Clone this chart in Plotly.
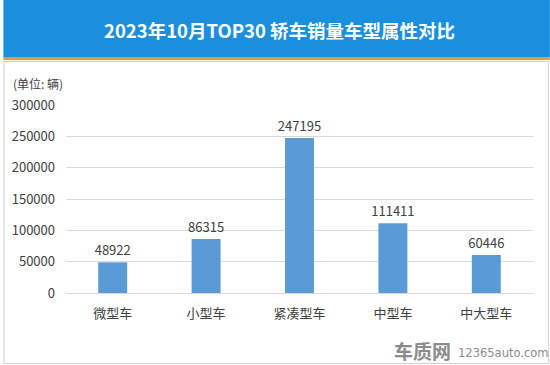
import plotly.graph_objects as go

categories = ["微型车", "小型车", "紧凑型车", "中型车", "中大型车"]
values = [48922, 86315, 247195, 111411, 60446]
y_ticks = [0, 50000, 100000, 150000, 200000, 250000, 300000]

FONT = "Noto Sans CJK SC, Microsoft YaHei, sans-serif"

W, H = 550, 365
L, R, T, B = 63, 17, 105, 72
PW, PH = W - L - R, H - T - B


def px(x):
    return (x - L) / PW


def py(y):
    return (H - B - y) / PH


fig = go.Figure()
fig.add_trace(go.Bar(
    x=categories, y=values,
    marker=dict(color="#5B9BD5", line=dict(width=0)),
    text=[str(v) for v in values], textposition="outside",
    constraintext="none",
    textfont=dict(size=13, color="#404040", family=FONT),
    cliponaxis=False,
))

fig.update_layout(
    width=W, height=H,
    margin=dict(l=L, r=R, t=T, b=B),
    paper_bgcolor="white", plot_bgcolor="white",
    bargap=0.69,
    showlegend=False,
    font=dict(family=FONT, color="#404040", size=13),
    xaxis=dict(showgrid=False, showline=True, linecolor="#D9D9D9", linewidth=1,
               ticks="", ticklabelstandoff=8, tickfont=dict(size=13, color="#404040")),
    yaxis=dict(range=[0, 300000], tickvals=y_ticks, ticktext=[str(t) for t in y_ticks],
               showgrid=True, gridcolor="#D9D9D9", gridwidth=1, zeroline=False,
               showline=False, ticks="", ticklabelstandoff=10,
               tickfont=dict(size=13, color="#404040")),
    shapes=[
        dict(type="rect", xref="paper", yref="paper", x0=px(0), x1=px(W),
             y0=py(57), y1=py(0), fillcolor="#1A8FDE", line=dict(width=0), layer="below"),
        dict(type="rect", xref="paper", yref="paper", x0=px(0), x1=px(W),
             y0=py(60), y1=py(57), fillcolor="#DE9C45", line=dict(width=0), layer="below"),
        dict(type="rect", xref="paper", yref="paper", x0=px(0), x1=px(W),
             y0=py(61.5), y1=py(60), fillcolor="#FFF3CC", line=dict(width=0), layer="below"),
        dict(type="rect", xref="paper", yref="paper", x0=px(0.5), x1=px(W - 1.5),
             y0=py(H - 1.5), y1=py(61.5), fillcolor="rgba(0,0,0,0)",
             line=dict(width=1, color="#D0D0D0"), layer="below"),
    ],
    annotations=[
        dict(text="<b>2023年10月TOP30 轿车销量车型属性对比</b>", xref="paper", yref="paper",
             x=px(278), y=py(30), xanchor="center", yanchor="middle",
             showarrow=False, font=dict(size=18.5, color="white", family=FONT)),
        dict(text="(单位: 辆)", xref="paper", yref="paper",
             x=px(8), y=py(83), xanchor="left", yanchor="middle",
             showarrow=False, font=dict(size=12, color="#404040", family=FONT)),
        dict(text="<b>车质网</b>", xref="paper", yref="paper",
             x=px(452), y=py(350), xanchor="right", yanchor="middle",
             showarrow=False, font=dict(size=19, color="#8C8C8C", family=FONT)),
        dict(text="12365auto.com", xref="paper", yref="paper",
             x=px(456), y=py(353), xanchor="left", yanchor="middle",
             showarrow=False, font=dict(size=11.5, color="#8C8C8C", family="DejaVu Sans, sans-serif")),
    ],
)

fig.write_html(
    "out.html",
    config={"displayModeBar": False, "responsive": False},
    post_script="document.body.style.margin='0';document.body.style.overflow='hidden';",
)
